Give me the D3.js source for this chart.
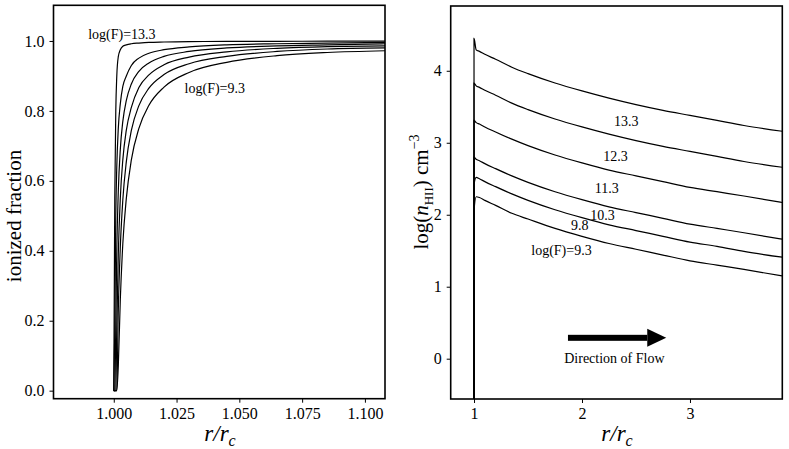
<!DOCTYPE html>
<html>
<head>
<meta charset="utf-8">
<script src="https://cdn.jsdelivr.net/npm/d3@7"></script>
<style>
  body { margin: 0; background: #fff; }
  text { font-family: "Liberation Serif", "DejaVu Serif", serif; fill: #000; }
</style>
</head>
<body>
<svg id="chart" width="789" height="449"></svg>
<script>
// flux labels, shared by both panels
var fluxLabels = ["13.3", "12.3", "11.3", "10.3", "9.8", "9.3"];

// left panel: ionized fraction vs r/rc
var rIon = [1.0000, 1.0004, 1.0008, 1.0012, 1.0018, 1.0026, 1.0036, 1.005, 1.007,
            1.010, 1.014, 1.020, 1.030, 1.045, 1.065, 1.085, 1.108];
var ion133 = [0, 0.55, 0.80, 0.90, 0.955, 0.975, 0.985, 0.989, 0.992, 0.994, 0.996, 0.997, 0.998, 0.999, 0.999, 0.9995, 0.9995];
var ion123 = [0, 0.17, 0.50, 0.64, 0.75, 0.82, 0.87, 0.90, 0.93, 0.951, 0.965, 0.975, 0.983, 0.989, 0.992, 0.994, 0.996];
var ion113 = [0, 0, 0.18, 0.40, 0.57, 0.69, 0.77, 0.83, 0.877, 0.913, 0.937, 0.956, 0.970, 0.980, 0.986, 0.989, 0.992];
var ion103 = [0, 0, 0, 0.18, 0.39, 0.55, 0.66, 0.745, 0.81, 0.867, 0.903, 0.932, 0.954, 0.969, 0.979, 0.984, 0.986];
var ion98  = [0, 0, 0, 0, 0.23, 0.41, 0.545, 0.655, 0.744, 0.815, 0.865, 0.904, 0.935, 0.956, 0.970, 0.977, 0.980];
var ion93  = [0, 0, 0, 0, 0.07, 0.26, 0.42, 0.55, 0.66, 0.75, 0.816, 0.868, 0.91, 0.939, 0.958, 0.967, 0.972];
var ionSeries = [ion133, ion123, ion113, ion103, ion98, ion93];
var ionXTicks = [1.000, 1.025, 1.050, 1.075, 1.100];
var ionYTicks = [0.0, 0.2, 0.4, 0.6, 0.8, 1.0];

// right panel: log n_HII vs r/rc (first point lies below the axis, it is clipped)
var rDen = [0.9999, 1.0, 1.02, 1.05, 1.1, 1.2, 1.35, 1.5, 1.75, 2.0, 2.25, 2.5, 2.75, 3.0, 3.25, 3.5, 3.855];
var den133 = [-0.9, 4.45, 4.29, 4.27, 4.23, 4.16, 4.05, 3.96, 3.83, 3.72, 3.62, 3.53, 3.45, 3.38, 3.31, 3.24, 3.16];
var den123 = [-0.9, 3.83, 3.79, 3.77, 3.73, 3.66, 3.55, 3.46, 3.33, 3.22, 3.12, 3.03, 2.95, 2.88, 2.81, 2.74, 2.66];
var den113 = [-0.9, 3.31, 3.28, 3.26, 3.22, 3.15, 3.05, 2.96, 2.83, 2.72, 2.62, 2.54, 2.46, 2.38, 2.32, 2.26, 2.17];
var den103 = [-0.9, 2.80, 2.77, 2.75, 2.71, 2.64, 2.54, 2.45, 2.32, 2.21, 2.11, 2.03, 1.95, 1.87, 1.81, 1.75, 1.66];
var den98  = [-0.9, 2.42, 2.52, 2.50, 2.46, 2.39, 2.29, 2.20, 2.07, 1.96, 1.86, 1.78, 1.70, 1.62, 1.56, 1.49, 1.41];
var den93  = [-0.9, 2.05, 2.25, 2.24, 2.20, 2.13, 2.02, 1.94, 1.81, 1.70, 1.60, 1.52, 1.44, 1.36, 1.30, 1.24, 1.15];
var denSeries = [den133, den123, den113, den103, den98, den93];
var denXTicks = [1, 2, 3];
var denYTicks = [0, 1, 2, 3, 4];

// label anchors in data coords [x, y]
var denLabelPos = [[2.41, 3.30], [2.31, 2.82], [2.23, 2.37], [2.19, 1.99], [1.98, 1.85], [1.81, 1.51]];
var flowArrow = [1.87, 2.78, 0.29];

var svg = d3.select("#chart");

function frame(g, x, y) {
  g.append("rect")
    .attr("x", x.range()[0]).attr("y", y.range()[1])
    .attr("width", x.range()[1] - x.range()[0])
    .attr("height", y.range()[0] - y.range()[1])
    .attr("fill", "none").attr("stroke", "#000").attr("stroke-width", 1.6);
}

function axes(g, x, y, xt, yt, xfmt, yfmt) {
  var ax = g.append("g")
    .attr("transform", "translate(0," + y.range()[0] + ")")
    .call(d3.axisBottom(x).tickValues(xt).tickFormat(xfmt).tickSize(4).tickPadding(5))
  var ay = g.append("g")
    .attr("transform", "translate(" + x.range()[0] + ",0)")
    .call(d3.axisLeft(y).tickValues(yt).tickFormat(yfmt).tickSize(4).tickPadding(5))
  ;[ax, ay].forEach(function(a) {
    a.select(".domain").remove()
    a.selectAll("text").style("font-size", "16px").style("font-family", "'Liberation Serif', serif")
      .attr("fill", "#333")
    a.selectAll("line").attr("stroke", "#000")
  })
}

function clip(id, x, y) {
  svg.append("clipPath").attr("id", id).append("rect")
    .attr("x", x.range()[0]).attr("y", y.range()[1])
    .attr("width", x.range()[1] - x.range()[0])
    .attr("height", y.range()[0] - y.range()[1]);
}

// ---- left panel
var x1 = d3.scaleLinear().domain([0.976, 1.108]).range([53.5, 385]);
var y1 = d3.scaleLinear().domain([-0.023, 1.102]).range([398.7, 5.3]);
var g1 = svg.append("g");
clip("c1", x1, y1);

var line1 = d3.line()
  .x(function(d, i) { return x1(rIon[i]); })
  .y(function(d) { return y1(d); })
  .curve(d3.curveMonotoneX);

g1.append("g").attr("clip-path", "url(#c1)")
  .selectAll("path").data(ionSeries).enter().append("path")
  .attr("d", line1)
  .attr("fill", "none").attr("stroke", "#000").attr("stroke-width", 1.2);

g1.append("text").attr("x", x1(0.9898)).attr("y", y1(1.021)).attr("dy", ".35em")
  .style("font-size", "14px").text("log(F)=" + fluxLabels[0]);
g1.append("text").attr("x", x1(1.0282)).attr("y", y1(0.864)).attr("dy", ".35em")
  .style("font-size", "14px").text("log(F)=" + fluxLabels[5]);

axes(g1, x1, y1, ionXTicks, ionYTicks, d3.format(".3f"), d3.format(".1f"));
frame(g1, x1, y1);

g1.append("text").attr("transform", "translate(21,216) rotate(-90)")
  .attr("text-anchor", "middle").style("font-size", "21px").text("ionized fraction");
g1.append("text").attr("x", 220).attr("y", 441).attr("text-anchor", "middle")
  .style("font-size", "23px").style("font-style", "italic")
  .html('r/r<tspan dy="5" style="font-size:16px">c</tspan>');

// ---- right panel
var x2 = d3.scaleLinear().domain([0.784, 3.855]).range([450.7, 782.3]);
var y2 = d3.scaleLinear().domain([-0.56, 4.9]).range([399, 6]);
var g2 = svg.append("g");
clip("c2", x2, y2);

var line2 = d3.line()
  .x(function(d, i) { return x2(rDen[i]); })
  .y(function(d) { return y2(d); })
  .curve(d3.curveMonotoneX);

g2.append("g").attr("clip-path", "url(#c2)")
  .selectAll("path").data(denSeries).enter().append("path")
  .attr("d", line2)
  .attr("fill", "none").attr("stroke", "#000").attr("stroke-width", 1.2);

g2.selectAll("text.flux").data(fluxLabels).enter().append("text")
  .attr("class", "flux")
  .attr("x", function(d, i) { return x2(denLabelPos[i][0]); })
  .attr("y", function(d, i) { return y2(denLabelPos[i][1]); })
  .attr("dy", ".35em").attr("text-anchor", "middle")
  .style("font-size", "14px")
  .text(function(d, i) { return i == 5 ? "log(F)=" + d : d; });

// flow arrow
var ay0 = y2(flowArrow[2]), ax0 = x2(flowArrow[0]), ax1 = x2(flowArrow[1]);
g2.append("rect").attr("x", ax0).attr("y", ay0 - 3).attr("width", ax1 - ax0 - 19).attr("height", 6);
g2.append("path")
  .attr("d", "M" + (ax1 - 19) + "," + (ay0 - 9) + "L" + ax1 + "," + ay0 + "L" + (ax1 - 19) + "," + (ay0 + 9) + "Z");
g2.append("text").attr("x", x2(2.30)).attr("y", y2(0.01)).attr("dy", ".35em")
  .attr("text-anchor", "middle").style("font-size", "14px").text("Direction of Flow");

axes(g2, x2, y2, denXTicks, denYTicks, d3.format("d"), d3.format("d"));
frame(g2, x2, y2);

g2.append("text").attr("transform", "translate(428,192) rotate(-90)")
  .attr("text-anchor", "middle").style("font-size", "21px")
  .html('log(<tspan style="font-style:italic">n</tspan><tspan dy="5" style="font-size:13px">HII</tspan><tspan dy="-5">) cm</tspan><tspan dy="-9" style="font-size:14px">−3</tspan>');
g2.append("text").attr("x", 617).attr("y", 441).attr("text-anchor", "middle")
  .style("font-size", "23px").style("font-style", "italic")
  .html('r/r<tspan dy="5" style="font-size:16px">c</tspan>');
</script>
</body>
</html>
